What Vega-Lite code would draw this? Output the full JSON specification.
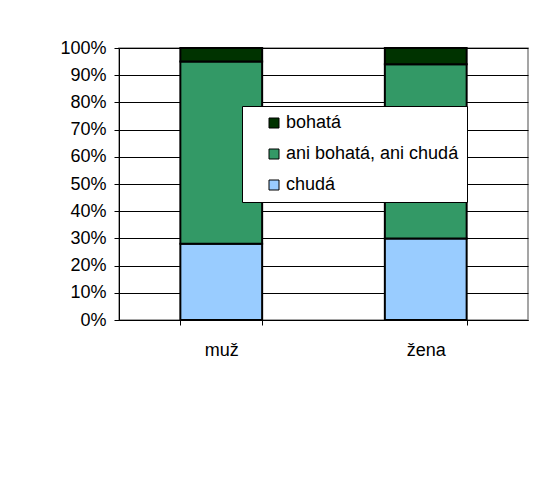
{
  "$schema": "https://vega.github.io/schema/vega-lite/v6.json",
  "width": 409,
  "height": 272,
  "autosize": {"type": "none"},
  "padding": {"left": 119, "top": 48, "right": 7, "bottom": 158},
  "background": "white",
  "data": {
    "values": [
      {"pohlavi": "muž", "kategorie": "chudá", "podil": 28, "poradi": 1},
      {"pohlavi": "muž", "kategorie": "ani bohatá, ani chudá", "podil": 67, "poradi": 2},
      {"pohlavi": "muž", "kategorie": "bohatá", "podil": 5, "poradi": 3},
      {"pohlavi": "žena", "kategorie": "chudá", "podil": 30, "poradi": 1},
      {"pohlavi": "žena", "kategorie": "ani bohatá, ani chudá", "podil": 64, "poradi": 2},
      {"pohlavi": "žena", "kategorie": "bohatá", "podil": 6, "poradi": 3}
    ]
  },
  "mark": {"type": "bar", "stroke": "black", "strokeWidth": 2},
  "encoding": {
    "x": {
      "field": "pohlavi",
      "type": "nominal",
      "sort": ["muž", "žena"],
      "scale": {"paddingInner": 0.6, "paddingOuter": 0.3},
      "axis": {
        "title": null,
        "labelAngle": 0,
        "tickBand": "extent",
        "tickSize": 5,
        "tickColor": "black",
        "domainColor": "black",
        "labelPadding": 16,
        "labelFontSize": 18,
        "labelFont": "Liberation Sans",
        "labelColor": "black"
      }
    },
    "y": {
      "field": "podil",
      "type": "quantitative",
      "stack": "normalize",
      "scale": {"domain": [0, 1]},
      "axis": {
        "title": null,
        "format": "%",
        "values": [0, 0.1, 0.2, 0.3, 0.4, 0.5, 0.6, 0.7, 0.8, 0.9, 1],
        "grid": true,
        "gridColor": "black",
        "gridOpacity": 1,
        "domainColor": "black",
        "tickColor": "black",
        "tickSize": 5,
        "labelPadding": 8,
        "labelFontSize": 18,
        "labelFont": "Liberation Sans",
        "labelColor": "black"
      }
    },
    "color": {
      "field": "kategorie",
      "type": "nominal",
      "scale": {
        "domain": ["bohatá", "ani bohatá, ani chudá", "chudá"],
        "range": ["#003300", "#339966", "#99CCFF"]
      },
      "legend": {
        "title": null,
        "orient": "none",
        "legendX": 123,
        "legendY": 58,
        "fillColor": "white",
        "strokeColor": "black",
        "padding": 8,
        "symbolOffset": 15,
        "symbolType": "square",
        "symbolSize": 100,
        "symbolStrokeColor": "black",
        "symbolStrokeWidth": 1,
        "symbolOpacity": 1,
        "labelOffset": 3,
        "rowPadding": 13,
        "labelFontSize": 18,
        "labelFont": "Liberation Sans",
        "labelColor": "black",
        "labelLimit": 400
      }
    },
    "order": {"field": "poradi", "type": "quantitative"}
  },
  "config": {
    "view": {"stroke": "#888888", "strokeWidth": 1.5}
  }
}
